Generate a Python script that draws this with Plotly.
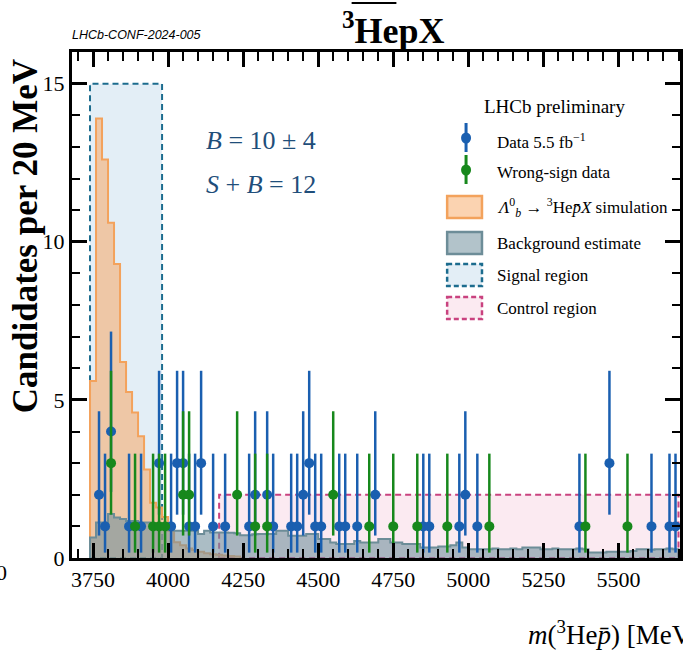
import numpy as np
import plotly.graph_objects as go

# ---------------------------------------------------------------- data
BIN_WIDTH = 20
HIST_START = 3740

# Lambda_b -> 3He pbar X simulation, candidates per 20 MeV bin from 3740 MeV
sim_counts = [5.6, 13.9, 12.6, 10.6, 9.3, 6.2, 5.25, 4.6, 3.85, 2.8,
              1.75, 1.6, 1.3, 0.85, 0.5, 0.4, 0.3, 0.25, 0.2, 0.15,
              0.12, 0.1, 0.08, 0.06, 0.05]

# background estimate per 20 MeV bin from 3740 MeV
bkg_counts = [0.65, 1.12, 1.12, 1.39, 1.28, 1.23, 1.17, 1.17, 1.12, 1.12,
              1.07, 1.07, 0.96, 0.96, 0.86, 0.86, 0.86, 0.86, 0.76, 0.86,
              0.81, 0.81, 0.81, 0.80, 0.78, 0.72, 0.72, 0.75, 0.76, 0.76,
              0.76, 0.86, 0.86, 0.70, 0.70, 0.70, 0.76, 0.76, 0.60, 0.60,
              0.49, 0.44, 0.44, 0.44, 0.54, 0.49, 0.49, 0.49, 0.60, 0.60,
              0.49, 0.49, 0.44, 0.44, 0.44, 0.33, 0.33, 0.33, 0.36, 0.36,
              0.40, 0.49, 0.33, 0.28, 0.28, 0.28, 0.28, 0.30, 0.28, 0.28,
              0.30, 0.28, 0.33, 0.33, 0.33, 0.28, 0.28, 0.30, 0.28, 0.28,
              0.28, 0.30, 0.28, 0.17, 0.17, 0.17, 0.20, 0.20, 0.20, 0.20,
              0.22, 0.28, 0.28, 0.26, 0.28, 0.28, 0.30, 0.28]

# data 5.5 fb^-1 (bin centres in MeV, counts)
data_mass = [3770, 3790, 3810, 3870, 3910, 3970, 4010, 4030, 4050, 4070,
             4090, 4110, 4150, 4190, 4270, 4290, 4330, 4350, 4410, 4430,
             4450, 4470, 4490, 4510, 4570, 4590, 4630, 4690, 4850, 4870,
             4970, 4990, 5030, 5370, 5470, 5610, 5670, 5690]
data_counts = [2, 1, 4, 1, 1, 3, 1, 3, 3, 1,
               1, 3, 1, 1, 1, 2, 2, 1, 1, 1,
               2, 3, 1, 1, 1, 1, 1, 2, 1, 1,
               1, 2, 1, 1, 3, 1, 1, 1]

# wrong-sign data
ws_mass = [3810, 3890, 3950, 3970, 3990, 4050, 4070, 4230, 4290, 4330,
           4550, 4670, 4750, 4830, 4930, 5070, 5390, 5530]
ws_counts = [3, 1, 1, 1, 1, 2, 2, 2, 1, 1,
             2, 1, 1, 1, 1, 1, 1, 1]

# Poisson 68% interval half-widths (down, up) by observed count
poisson_down = {1: 0.83, 2: 1.29, 3: 1.63, 4: 1.91}
poisson_up = {1: 2.30, 2: 2.64, 3: 2.92, 4: 3.16}

# mass windows [MeV] and heights
signal_region = [3740, 3980]
signal_height = 15
control_region = [4170, 5700]
control_height = 2

x_range = [3680, 5705]
y_range = [0, 16]

# ---------------------------------------------------------------- layout geometry
W, H = 683, 654
ML, MR, MT, MB = 72, 0, 52, 96
PW, PH = W - ML - MR, H - MT - MB


def px(x):
    return (x - ML) / PW


def py(y):
    return (MT + PH - y) / PH


SERIF = "Liberation Serif, Times New Roman, serif"
BLUE = "#1a5fb0"
GREEN = "#17881c"


def step_outline(counts):
    edges = HIST_START + BIN_WIDTH * np.arange(len(counts) + 1)
    xs = np.concatenate([[edges[0]], edges])
    ys = np.concatenate([[0.0], counts, [0.0]])
    return xs, ys


fig = go.Figure()

# simulation histogram
sx, sy = step_outline(sim_counts)
fig.add_trace(go.Scatter(x=sx, y=sy, mode="lines", line_shape="hv",
                         line=dict(color="#f3a25c", width=2),
                         fill="tozeroy", fillcolor="rgba(247,168,100,0.55)",
                         hoverinfo="skip", showlegend=False))

# background histogram
bx, by = step_outline(bkg_counts)
fig.add_trace(go.Scatter(x=bx, y=by, mode="lines", line_shape="hv",
                         line=dict(color="#6d8d98", width=2),
                         fill="tozeroy", fillcolor="rgba(115,145,158,0.6)",
                         hoverinfo="skip", showlegend=False))


def points(mass, counts, color):
    return go.Scatter(
        x=mass, y=counts, mode="markers",
        marker=dict(color=color, size=10, line=dict(width=0)),
        error_y=dict(type="data", symmetric=False,
                     array=[poisson_up[c] for c in counts],
                     arrayminus=[poisson_down[c] for c in counts],
                     color=color, thickness=2.5, width=0),
        showlegend=False)


fig.add_trace(points(data_mass, data_counts, BLUE))
fig.add_trace(points(ws_mass, ws_counts, GREEN))

shapes = [
    dict(type="rect", xref="x", yref="y", layer="below",
         x0=signal_region[0], x1=signal_region[1], y0=0, y1=signal_height,
         line=dict(color="#1c6c8e", width=2, dash="6px,4px"),
         fillcolor="rgba(175,205,228,0.35)"),
    dict(type="rect", xref="x", yref="y", layer="below",
         x0=control_region[0], x1=control_region[1], y0=0, y1=control_height,
         line=dict(color="#c9427f", width=2, dash="6px,4px"),
         fillcolor="rgba(240,170,200,0.25)"),
]

annotations = []


def text(x, y, s, size, color="black", xanchor="left", family=SERIF):
    annotations.append(dict(xref="paper", yref="paper", x=px(x), y=py(y),
                            text=s, showarrow=False, xanchor=xanchor,
                            yanchor="middle",
                            font=dict(family=family, size=size, color=color)))


# ---------------------------------------------------------------- legend
text(557, 106, "LHCb preliminary", 19, xanchor="center")
for yc, col, lab in [(138, BLUE, "Data 5.5 fb<sup>−1</sup>"),
                     (170, GREEN, "Wrong-sign data")]:
    shapes.append(dict(type="line", xref="paper", yref="paper",
                       x0=px(468), x1=px(468), y0=py(yc - 15), y1=py(yc + 14),
                       line=dict(color=col, width=3)))
    shapes.append(dict(type="circle", xref="paper", yref="paper",
                       xsizemode="pixel", ysizemode="pixel",
                       xanchor=px(468), yanchor=py(yc),
                       x0=-5, x1=5, y0=-5.5, y1=5.5,
                       fillcolor=col, line=dict(width=0)))
    text(497, yc + 3, lab, 17)

boxes = [
    (207, "rgba(247,168,100,0.5)", "#f3a25c", "solid",
     "<i>Λ</i><sup>0</sup><sub><i>b</i></sub> → <sup>3</sup>He<i>p̄X</i> simulation"),
    (243, "rgba(115,145,158,0.55)", "#6d8d98", "solid", "Background estimate"),
    (275, "rgba(175,205,228,0.35)", "#1c6c8e", "5px,3px", "Signal region"),
    (308, "rgba(240,170,200,0.25)", "#c9427f", "5px,3px", "Control region"),
]
for yc, fill, edge, dash, lab in boxes:
    shapes.append(dict(type="rect", xref="paper", yref="paper",
                       x0=px(449), x1=px(484), y0=py(yc - 11), y1=py(yc + 11),
                       fillcolor=fill, line=dict(color=edge, width=2.5, dash=dash)))
    text(497, yc, lab, 17)

# ---------------------------------------------------------------- labels
text(205, 140, "<i>B</i> = 10 ± 4", 26, color="#1f4e7a")
text(205, 184, "<i>S</i> + <i>B</i> = 12", 26, color="#1f4e7a")
text(70, 35, "<i>LHCb-CONF-2024-005</i>", 12.5,
     family="Liberation Sans, Arial, sans-serif")
text(395, 28, "<b><sup>3</sup>HepX</b>", 36, xanchor="center")
shapes.append(dict(type="line", xref="paper", yref="paper",
                   x0=px(353), x1=px(398), y0=py(3), y1=py(3),
                   line=dict(color="black", width=2)))
text(528, 633, "<i>m</i>(<sup>3</sup>He<i>p̄</i>) [MeV]", 27)
text(1, 572, "0", 22, xanchor="center")
annotations.append(dict(xref="paper", yref="paper", x=px(25), y=py(236),
                        text="<b>Candidates per 20 MeV</b>", showarrow=False,
                        textangle=-90, xanchor="center", yanchor="middle",
                        font=dict(family=SERIF, size=35, color="black")))

axis_common = dict(showline=True, linecolor="black", linewidth=3,
                   mirror="allticks", ticks="inside", tickcolor="black",
                   tickwidth=2.5, ticklen=15, showgrid=False, zeroline=False,
                   tickfont=dict(family=SERIF, size=22, color="black"))

fig.update_layout(
    width=W, height=H,
    margin=dict(l=ML, r=MR, t=MT, b=MB),
    paper_bgcolor="white", plot_bgcolor="white",
    showlegend=False,
    xaxis=dict(range=x_range, tick0=3750, dtick=250,
               minor=dict(dtick=50, ticks="inside", ticklen=9, tickwidth=2,
                          tickcolor="black"),
               **axis_common),
    yaxis=dict(range=y_range, tick0=0, dtick=5,
               minor=dict(dtick=1, ticks="inside", ticklen=8, tickwidth=2,
                          tickcolor="black"),
               **axis_common),
    shapes=shapes,
    annotations=annotations,
)

fig.write_html("out.html")
